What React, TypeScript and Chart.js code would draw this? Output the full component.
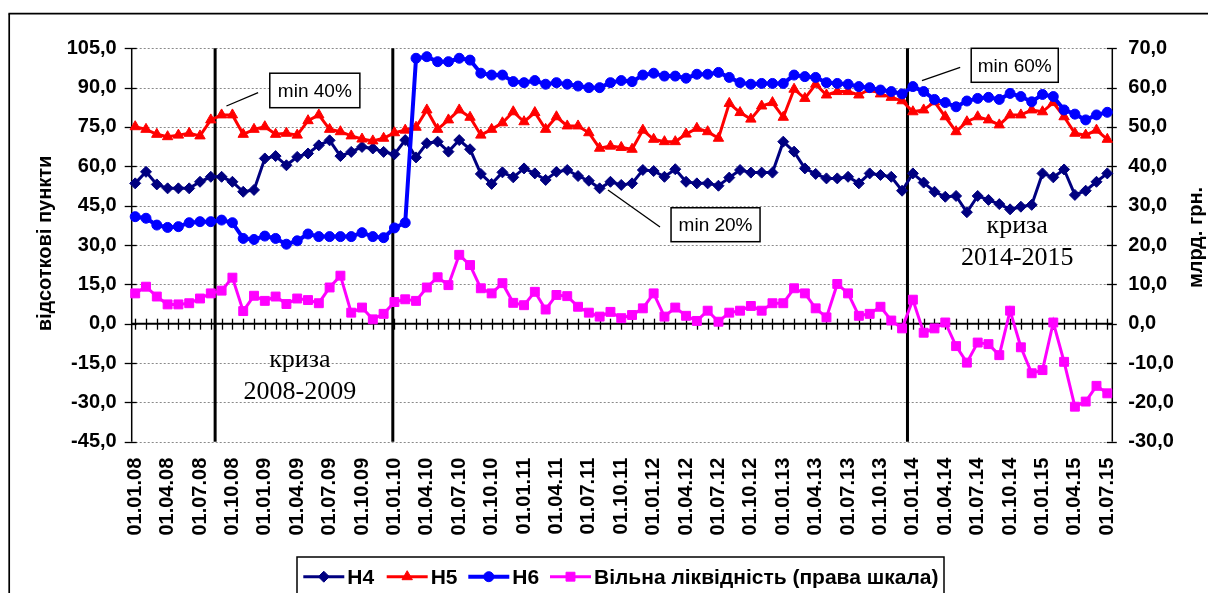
import React, { useEffect, useRef } from 'react';
import { Chart, registerables } from 'chart.js';

Chart.register(...registerables);

// ---------- data ----------
const tickLabels: string[] = [
  '01.01.08', '01.04.08', '01.07.08', '01.10.08',
  '01.01.09', '01.04.09', '01.07.09', '01.10.09',
  '01.01.10', '01.04.10', '01.07.10', '01.10.10',
  '01.01.11', '01.04.11', '01.07.11', '01.10.11',
  '01.01.12', '01.04.12', '01.07.12', '01.10.12',
  '01.01.13', '01.04.13', '01.07.13', '01.10.13',
  '01.01.14', '01.04.14', '01.07.14', '01.10.14',
  '01.01.15', '01.04.15', '01.07.15',
];

const seriesNames: string[] = ['Н4', 'Н5', 'Н6', 'Вільна ліквідність (права шкала)'];

const h4: number[] = [
  53.5, 57.9, 53.1, 51.6, 51.6, 51.6, 54.1, 56.0, 56.0, 54.1, 50.3, 51.0,
  63.0, 63.9, 60.4, 63.6, 64.9, 68.0, 69.9, 63.9, 65.5, 67.4, 66.8, 65.5,
  64.6, 70.0, 63.4, 68.8, 69.4, 65.6, 70.0, 66.5, 57.1, 53.3, 57.7, 55.8,
  59.2, 57.3, 54.8, 57.9, 58.6, 56.3, 54.5, 51.6, 54.1, 52.9, 53.5, 58.6,
  58.2, 56.0, 58.9, 54.1, 53.5, 53.5, 52.6, 55.7, 58.6, 57.6, 57.6, 57.6,
  69.4, 65.6, 59.2, 57.1, 55.4, 55.4, 56.0, 53.5, 57.3, 56.7, 56.0, 50.7,
  57.3, 53.8, 50.3, 48.4, 48.7, 42.5, 48.7, 47.2, 45.6, 43.6, 44.6, 45.3,
  57.3, 55.8, 58.8, 49.1, 50.7, 54.1, 57.3,
];

const h5: number[] = [
  75.1, 74.1, 72.2, 71.3, 71.9, 72.6, 71.6, 77.7, 79.6, 79.6, 72.2, 74.1,
  75.1, 72.2, 72.6, 71.9, 77.4, 79.6, 74.1, 73.2, 71.6, 70.4, 69.7, 70.7,
  72.8, 73.8, 74.9, 81.5, 74.1, 77.7, 81.5, 78.7, 71.9, 74.1, 76.6, 80.8,
  77.0, 80.5, 74.1, 78.9, 75.4, 75.4, 72.8, 66.9, 67.7, 67.2, 66.5, 73.8,
  70.3, 69.4, 69.4, 72.3, 74.5, 73.2, 70.7, 84.0, 80.5, 78.0, 83.0, 84.3,
  78.7, 89.4, 85.9, 91.3, 87.2, 88.5, 88.5, 87.2, 89.4, 87.6, 86.3, 85.0,
  80.8, 81.5, 84.6, 78.9, 73.2, 77.0, 78.9, 77.7, 75.8, 79.6, 79.6, 81.5,
  80.8, 84.3, 78.9, 72.6, 71.9, 73.8, 70.3,
];

const h6: number[] = [
  40.8, 40.2, 37.6, 36.7, 37.0, 38.5, 38.9, 38.9, 39.5, 38.5, 32.5, 32.1,
  33.4, 32.5, 30.3, 31.6, 34.2, 33.2, 33.2, 33.2, 33.2, 34.7, 33.2, 32.8,
  36.5, 38.5, 101.2, 101.8, 99.9, 99.9, 101.2, 100.5, 95.5, 94.8, 94.8, 92.3,
  91.9, 92.7, 91.3, 91.9, 91.3, 90.6, 90.0, 90.0, 91.9, 92.7, 92.3, 94.8,
  95.5, 94.4, 94.4, 93.6, 95.1, 95.1, 95.8, 93.9, 91.9, 91.3, 91.6, 91.6,
  91.6, 94.8, 94.2, 93.9, 91.9, 91.6, 91.3, 90.4, 90.0, 89.1, 88.5, 87.6,
  90.4, 88.5, 85.5, 84.3, 82.7, 84.9, 85.9, 86.3, 85.5, 87.8, 86.6, 84.6,
  87.4, 86.6, 81.5, 79.9, 77.7, 79.6, 80.6,
];

const liquidity: number[] = [
  7.7, 9.4, 6.9, 4.9, 4.9, 5.2, 6.4, 7.7, 8.4, 11.7, 3.2, 7.1,
  5.8, 6.9, 5.0, 6.4, 6.0, 5.2, 9.2, 12.2, 2.8, 4.1, 1.1, 2.5,
  5.5, 6.2, 5.8, 9.2, 11.8, 9.8, 17.5, 14.9, 9.0, 7.7, 10.3, 5.3,
  4.7, 8.1, 3.6, 7.3, 7.0, 4.3, 2.8, 1.8, 3.0, 1.4, 2.2, 3.9,
  7.7, 1.8, 4.1, 2.0, 0.7, 3.3, 0.5, 2.8, 3.3, 4.5, 3.3, 5.2,
  5.2, 9.0, 7.7, 3.9, 1.6, 10.1, 7.7, 2.0, 2.5, 4.3, 0.8, -1.2,
  6.1, -2.3, -1.2, 0.3, -5.7, -9.9, -4.8, -5.2, -8.0, 3.3, -6.0, -12.6,
  -11.8, 0.3, -9.7, -21.1, -19.8, -15.8, -17.7,
];

// crisis marker lines (month index positions)
const crisisLines: number[] = [7.4, 23.85, 71.5];

// ---------- styling ----------
const SANS = '"Liberation Sans", Arial, sans-serif';
const SERIF = '"Liberation Serif", "Times New Roman", serif';
const COLORS = ['#000080', '#FF0000', '#0000FF', '#FF00FF'];
const STYLES = ['rectRot', 'triangle', 'circle', 'rect'];
const RADII = [5.5, 6, 5, 6.3];
const WIDTHS = [3, 3, 4, 3];

// annotation boxes in data units (x index / left-axis value)
const notes = [
  { text: 'min 40%', box: [12.46, 95.5, 20.8, 82.35], ptr: [8.45, 83.0, 11.38, 88.07] },
  { text: 'min 20%', box: [49.61, 44.2, 57.85, 31.26], ptr: [43.77, 51.0, 48.59, 36.86] },
  { text: 'min 60%', box: [77.4, 105, 85.46, 92.04], ptr: [72.84, 92.65, 76.38, 97.76] },
];
const crisisTexts = [
  { x: 15.25, lines: [{ t: 'криза', y: -16.4 }, { t: '2008-2009', y: -28.7 }] },
  { x: 81.66, lines: [{ t: 'криза', y: 34.46 }, { t: '2014-2015', y: 22.4 }] },
];

function drawMarker(ctx: CanvasRenderingContext2D, style: string, x: number, y: number, r: number, color: string) {
  ctx.save();
  ctx.fillStyle = color;
  ctx.strokeStyle = color;
  ctx.lineWidth = 1;
  ctx.setLineDash([]);
  ctx.beginPath();
  if (style === 'rectRot') {
    ctx.moveTo(x, y - r); ctx.lineTo(x + r, y); ctx.lineTo(x, y + r); ctx.lineTo(x - r, y); ctx.closePath();
  } else if (style === 'triangle') {
    ctx.moveTo(x, y - r); ctx.lineTo(x + 0.866 * r, y + 0.5 * r); ctx.lineTo(x - 0.866 * r, y + 0.5 * r); ctx.closePath();
  } else if (style === 'circle') {
    ctx.arc(x, y, r, 0, Math.PI * 2);
  } else {
    const s = r * Math.SQRT1_2;
    ctx.rect(x - s, y - s, 2 * s, 2 * s);
  }
  ctx.fill();
  ctx.stroke();
  ctx.restore();
}

function seg(ctx: CanvasRenderingContext2D, x1: number, y1: number, x2: number, y2: number) {
  ctx.beginPath();
  ctx.moveTo(x1, y1);
  ctx.lineTo(x2, y2);
  ctx.stroke();
}

const overlayPlugin = {
  id: 'overlay',
  beforeDatasetsDraw(chart: any) {
    const { ctx, chartArea: a, scales } = chart;
    const xs = scales.x, ys = scales.y, y2 = scales.y2;
    ctx.save();
    // grid lines
    ctx.strokeStyle = '#8a8a8a';
    ctx.lineWidth = 1;
    ctx.setLineDash([2, 2]);
    ys.ticks.forEach((t: any) => {
      if (t.value === 0) return;
      const py = Math.round(ys.getPixelForValue(t.value)) + 0.5;
      seg(ctx, a.left, py, a.right, py);
    });
    ctx.setLineDash([]);
    // crisis vertical lines
    ctx.strokeStyle = '#000';
    ctx.lineWidth = 3;
    crisisLines.forEach((v) => {
      const px = xs.getPixelForValue(v);
      seg(ctx, px, a.top, px, a.bottom);
    });
    // zero line with monthly tick marks
    const y0 = ys.getPixelForValue(0);
    ctx.lineWidth = 2;
    seg(ctx, a.left, y0, a.right, y0);
    ctx.lineWidth = 1.3;
    for (let i = 0; i < h4.length; i++) {
      const px = Math.round(xs.getPixelForValue(i)) + 0.5;
      seg(ctx, px, y0 - 5, px, y0 + 6);
    }
    // axes
    ctx.lineWidth = 1.5;
    seg(ctx, a.left, a.top, a.left, a.bottom);
    seg(ctx, a.right, a.top, a.right, a.bottom);
    ctx.lineWidth = 1.3;
    ys.ticks.forEach((t: any) => {
      const py = Math.round(ys.getPixelForValue(t.value)) + 0.5;
      seg(ctx, a.left - 7, py, a.left + 5, py);
    });
    y2.ticks.forEach((t: any) => {
      const py = Math.round(y2.getPixelForValue(t.value)) + 0.5;
      seg(ctx, a.right - 5.5, py, a.right + 4.5, py);
    });
    ctx.restore();
  },
  afterDraw(chart: any) {
    const { ctx, scales } = chart;
    const xs = scales.x, ys = scales.y;
    const X = (v: number) => xs.getPixelForValue(v);
    const Y = (v: number) => ys.getPixelForValue(v);
    ctx.save();
    ctx.setLineDash([]);

    // annotation boxes
    notes.forEach((n) => {
      ctx.strokeStyle = '#000';
      ctx.lineWidth = 1.3;
      seg(ctx, X(n.ptr[0]), Y(n.ptr[1]), X(n.ptr[2]), Y(n.ptr[3]));
      const bx = X(n.box[0]), by = Y(n.box[1]), bw = X(n.box[2]) - bx, bh = Y(n.box[3]) - by;
      ctx.fillStyle = '#fff';
      ctx.fillRect(bx, by, bw, bh);
      ctx.lineWidth = 1.5;
      ctx.strokeRect(bx, by, bw, bh);
      ctx.fillStyle = '#000';
      ctx.font = `19px ${SANS}`;
      ctx.textAlign = 'center';
      ctx.textBaseline = 'middle';
      ctx.fillText(n.text, bx + bw / 2, by + bh / 2 + 1);
    });

    // crisis captions
    ctx.fillStyle = '#000';
    ctx.font = `26px ${SERIF}`;
    ctx.textAlign = 'center';
    ctx.textBaseline = 'alphabetic';
    crisisTexts.forEach((c) => {
      c.lines.forEach((l) => ctx.fillText(l.t, X(c.x), Y(l.y)));
    });

    // axis titles
    ctx.font = `bold 20px ${SANS}`;
    ctx.textBaseline = 'middle';
    ctx.save();
    ctx.translate(37, 235.5);
    ctx.rotate(-Math.PI / 2);
    ctx.fillText('відсоткові пункти', 0, 0);
    ctx.restore();
    ctx.save();
    ctx.translate(1188.5, 229.5);
    ctx.rotate(-Math.PI / 2);
    ctx.fillText('млрд. грн.', 0, 0);
    ctx.restore();

    // legend
    ctx.strokeStyle = '#000';
    ctx.lineWidth = 1.5;
    ctx.strokeRect(289, 549, 647, 60);
    const starts = [295.3, 378.7, 460.3, 542];
    const ly = 568.7;
    starts.forEach((sx, k) => {
      ctx.strokeStyle = COLORS[k];
      ctx.lineWidth = WIDTHS[k];
      seg(ctx, sx, ly, sx + 41, ly);
      drawMarker(ctx, STYLES[k], sx + 20.5, ly, RADII[k], COLORS[k]);
      ctx.fillStyle = '#000';
      ctx.font = `bold 21px ${SANS}`;
      ctx.textAlign = 'left';
      ctx.textBaseline = 'alphabetic';
      ctx.fillText(seriesNames[k], sx + 44, 575.6);
    });

    // outer frame
    ctx.strokeStyle = '#000';
    ctx.lineWidth = 1.7;
    seg(ctx, 1.2, 5.7, 1.2, 600);
    seg(ctx, 0.4, 5.7, 1200, 5.7);
    ctx.restore();
  },
};

export default function App() {
  const ref = useRef<HTMLCanvasElement>(null);
  useEffect(() => {
    const all = [h4, h5, h6, liquidity];
    const chart = new Chart(ref.current as HTMLCanvasElement, {
      type: 'line',
      data: {
        datasets: all.map((arr, k) => ({
          label: seriesNames[k],
          data: arr.map((v, i) => ({ x: i, y: v })),
          yAxisID: k === 3 ? 'y2' : 'y',
          borderColor: COLORS[k],
          backgroundColor: COLORS[k],
          borderWidth: WIDTHS[k],
          pointStyle: STYLES[k] as any,
          pointRadius: RADII[k],
          pointBorderWidth: 1,
          pointBorderColor: COLORS[k],
          pointBackgroundColor: COLORS[k],
          tension: 0,
          fill: false,
          clip: false as any,
          order: 4 - k,
        })),
      },
      options: {
        responsive: false,
        animation: false,
        devicePixelRatio: 1,
        layout: { padding: { top: 40.3, left: 0, right: 0, bottom: 0 } },
        plugins: { legend: { display: false }, tooltip: { enabled: false } },
        scales: {
          x: {
            type: 'linear',
            min: -0.324,
            max: 90.463,
            grid: { display: false, drawTicks: false },
            border: { display: false },
            afterBuildTicks: (scale: any) => {
              scale.ticks = tickLabels.map((_, j) => ({ value: j * 3 }));
            },
            afterFit: (scale: any) => { scale.height = 166.3; },
            ticks: {
              autoSkip: false,
              maxRotation: 90,
              minRotation: 90,
              padding: 16,
              color: '#000',
              font: { family: SANS, size: 20, weight: 'bold' },
              callback: (_v: any, i: number) => tickLabels[i],
            },
          },
          y: {
            position: 'left',
            min: -45,
            max: 105,
            grid: { display: false, drawTicks: false },
            border: { display: false },
            afterFit: (scale: any) => { scale.width = 123.7; },
            ticks: {
              stepSize: 15,
              padding: 15,
              color: '#000',
              font: { family: SANS, size: 20, weight: 'bold' },
              callback: (v: any) => Number(v).toFixed(1).replace('.', ','),
            },
          },
          y2: {
            position: 'right',
            min: -30,
            max: 70,
            grid: { display: false, drawTicks: false },
            border: { display: false },
            afterFit: (scale: any) => { scale.width = 95.7; },
            ticks: {
              stepSize: 10,
              padding: 16,
              color: '#000',
              font: { family: SANS, size: 20, weight: 'bold' },
              callback: (v: any) => Number(v).toFixed(1).replace('.', ','),
            },
          },
        },
      } as any,
      plugins: [overlayPlugin],
    });
    return () => chart.destroy();
  }, []);
  return (
    <div style={{ width: 1200, height: 585, overflow: 'hidden' }}>
      <canvas ref={ref} width={1200} height={600} style={{ display: 'block' }} />
    </div>
  );
}
